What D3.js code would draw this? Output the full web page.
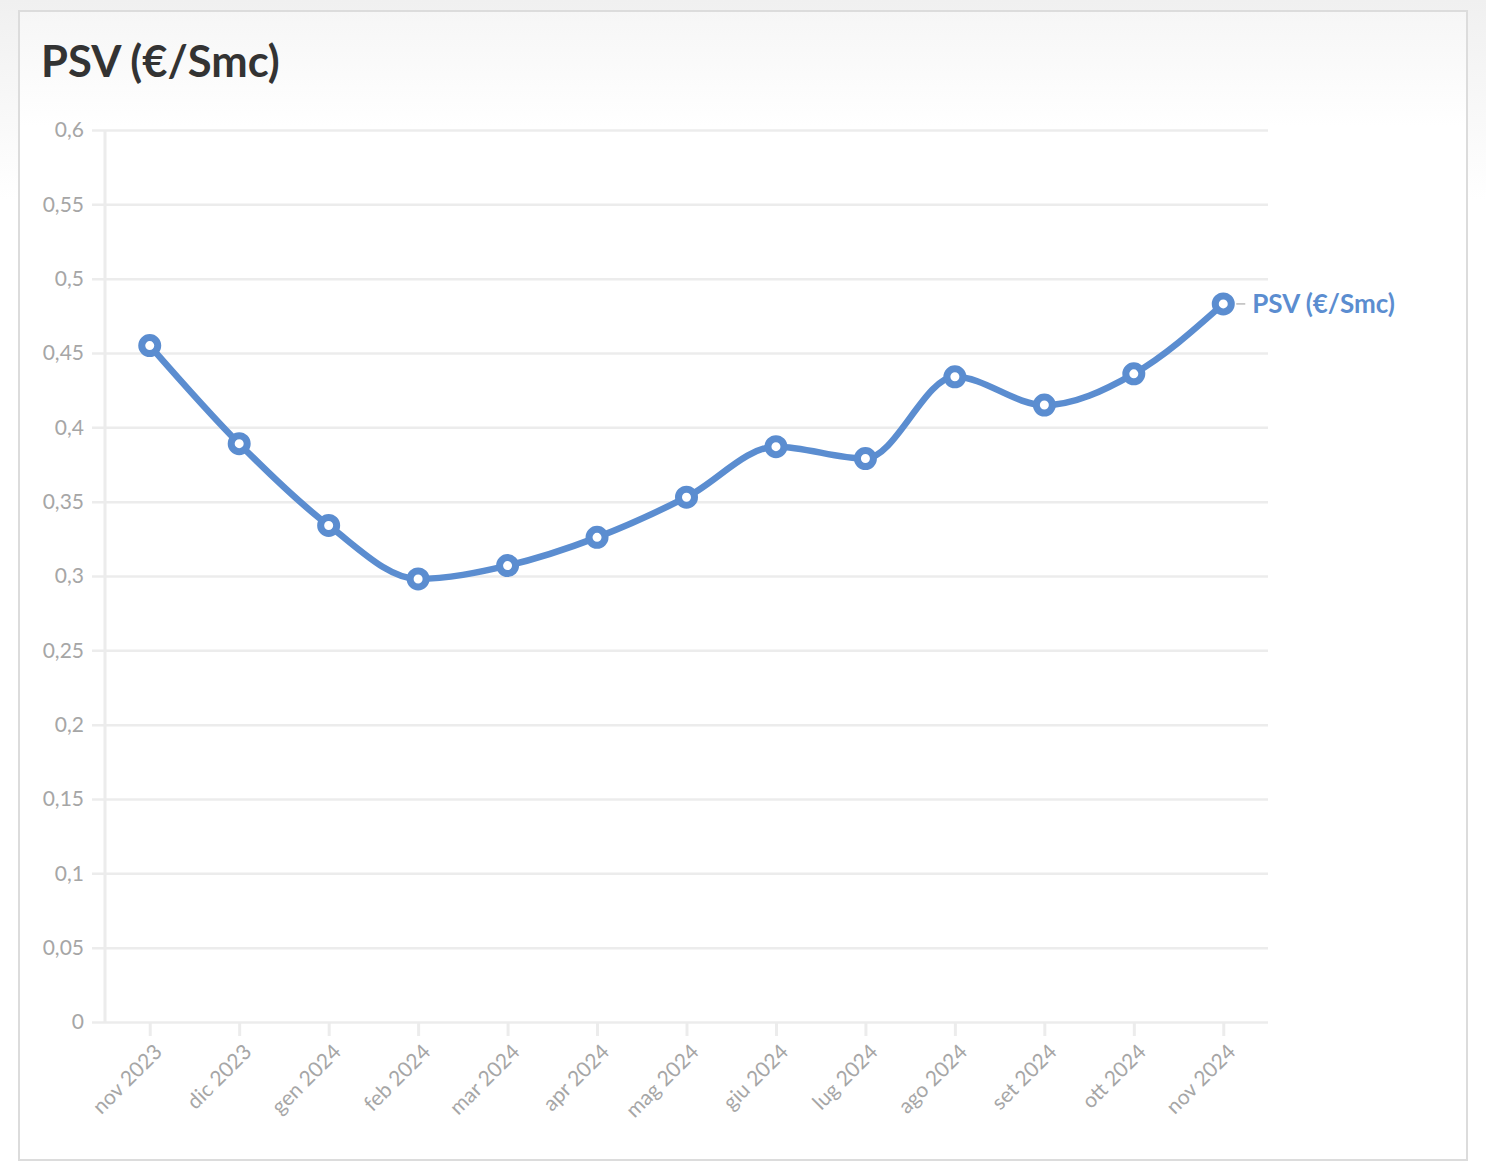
<!DOCTYPE html>
<html>
<head>
<meta charset="utf-8">
<script src="https://cdn.jsdelivr.net/npm/d3@7"></script>
<style>
  html, body { margin: 0; padding: 0; }
  body { width: 1486px; height: 1176px; background: linear-gradient(#f0f0f0 0px, #ffffff 200px); }
  svg { display: block; }
  text { font-family: "Source Sans Pro", Lato, "Open Sans", sans-serif; }
</style>
</head>
<body>
<svg id="chart"></svg>
<script>
// chart data
const months = ["nov 2023", "dic 2023", "gen 2024", "feb 2024", "mar 2024", "apr 2024", "mag 2024",
  "giu 2024", "lug 2024", "ago 2024", "set 2024", "ott 2024", "nov 2024"];
const psvValues = [0.455, 0.389, 0.334, 0.298, 0.307, 0.326, 0.353, 0.387, 0.379, 0.434, 0.415, 0.436, 0.483];
const yTicks = [0, 0.05, 0.1, 0.15, 0.2, 0.25, 0.3, 0.35, 0.4, 0.45, 0.5, 0.55, 0.6];
const seriesName = "PSV (€/Smc)";

const data = months.map((m, i) => ({ month: m, value: psvValues[i] }));

const width = 1486, height = 1176;
const blue = "#5b8dd0";
const grid = "#ececec";
const labelGray = "#a6a6a6";
const fontStack = "\"Source Sans Pro\", Lato, \"Open Sans\", sans-serif";

const svg = d3.select("#chart")
    .attr("width", width)
    .attr("height", height);

// card with soft top gradient
const defs = svg.append("defs");
const grad = defs.append("linearGradient")
    .attr("id", "cardGrad")
    .attr("x1", 0).attr("y1", 0).attr("x2", 0).attr("y2", 1);
grad.append("stop").attr("offset", "0%").attr("stop-color", "#f6f6f6");
grad.append("stop").attr("offset", "10%").attr("stop-color", "#ffffff");
grad.append("stop").attr("offset", "100%").attr("stop-color", "#ffffff");

svg.append("rect")
    .attr("x", 19).attr("y", 11)
    .attr("width", 1448).attr("height", 1149)
    .attr("fill", "url(#cardGrad)")
    .attr("stroke", "#dcdcdc")
    .attr("stroke-width", 2);

svg.append("text")
    .attr("x", 41).attr("y", 77)
    .attr("fill", "#333")
    .style("font-size", "43.5px")
    .style("font-weight", "bold")
    .text(seriesName);

// plot area
const plotLeft = 105, plotRight = 1268, plotTop = 130, plotBottom = 1022;

const x = d3.scalePoint()
    .domain(months)
    .range([plotLeft, plotRight])
    .padding(0.5);

const y = d3.scaleLinear()
    .domain([0, 0.6])
    .range([plotBottom, plotTop]);

const fmt = v => String(+v.toFixed(2)).replace(".", ",");

// horizontal gridlines + y labels
const yAxis = svg.append("g")
    .attr("transform", `translate(${plotLeft},0)`)
    .call(d3.axisLeft(y)
      .tickValues(yTicks)
      .tickFormat(fmt)
      .tickSize(-(plotRight - plotLeft))
      .tickPadding(21));
yAxis.select(".domain").remove();
yAxis.selectAll(".tick line")
    .attr("x1", -13)
    .attr("stroke", grid)
    .attr("stroke-width", 2.5);
yAxis.selectAll(".tick text")
    .attr("fill", labelGray)
    .style("font-size", "21px")
    .style("font-family", fontStack);

// vertical axis line
svg.append("line")
    .attr("x1", plotLeft).attr("x2", plotLeft)
    .attr("y1", plotTop).attr("y2", plotBottom)
    .attr("stroke", grid)
    .attr("stroke-width", 3);

// x axis
const xAxis = svg.append("g")
    .attr("transform", `translate(0,${plotBottom})`)
    .call(d3.axisBottom(x).tickSize(14).tickPadding(10));
xAxis.select(".domain").remove();
xAxis.selectAll(".tick line")
    .attr("stroke", grid)
    .attr("stroke-width", 3);
xAxis.selectAll(".tick text")
    .attr("fill", labelGray)
    .style("font-size", "21px")
    .style("font-family", fontStack)
    .attr("text-anchor", "end")
    .attr("dy", "0.35em")
    .attr("transform", "translate(-9,9) rotate(-45)");

// line
const line = d3.line()
    .x(d => x(d.month))
    .y(d => y(d.value))
    .curve(d3.curveMonotoneX);

svg.append("path")
    .datum(data)
    .attr("fill", "none")
    .attr("stroke", blue)
    .attr("stroke-width", 6.5)
    .attr("stroke-linejoin", "round")
    .attr("d", line);

// markers
svg.append("g")
  .selectAll("circle")
  .data(data)
  .join("circle")
    .attr("cx", d => x(d.month))
    .attr("cy", d => y(d.value))
    .attr("r", 8)
    .attr("fill", "#fff")
    .attr("stroke", blue)
    .attr("stroke-width", 7);

// end label
const last = data[data.length - 1];
svg.append("line")
    .attr("x1", x(last.month) + 13).attr("x2", x(last.month) + 22)
    .attr("y1", y(last.value)).attr("y2", y(last.value))
    .attr("stroke", "#999")
    .attr("stroke-width", 1);
svg.append("text")
    .attr("x", x(last.month) + 29)
    .attr("y", y(last.value))
    .attr("dy", "0.35em")
    .attr("fill", blue)
    .style("font-size", "26px")
    .style("font-weight", "bold")
    .text(seriesName);
</script>
</body>
</html>
